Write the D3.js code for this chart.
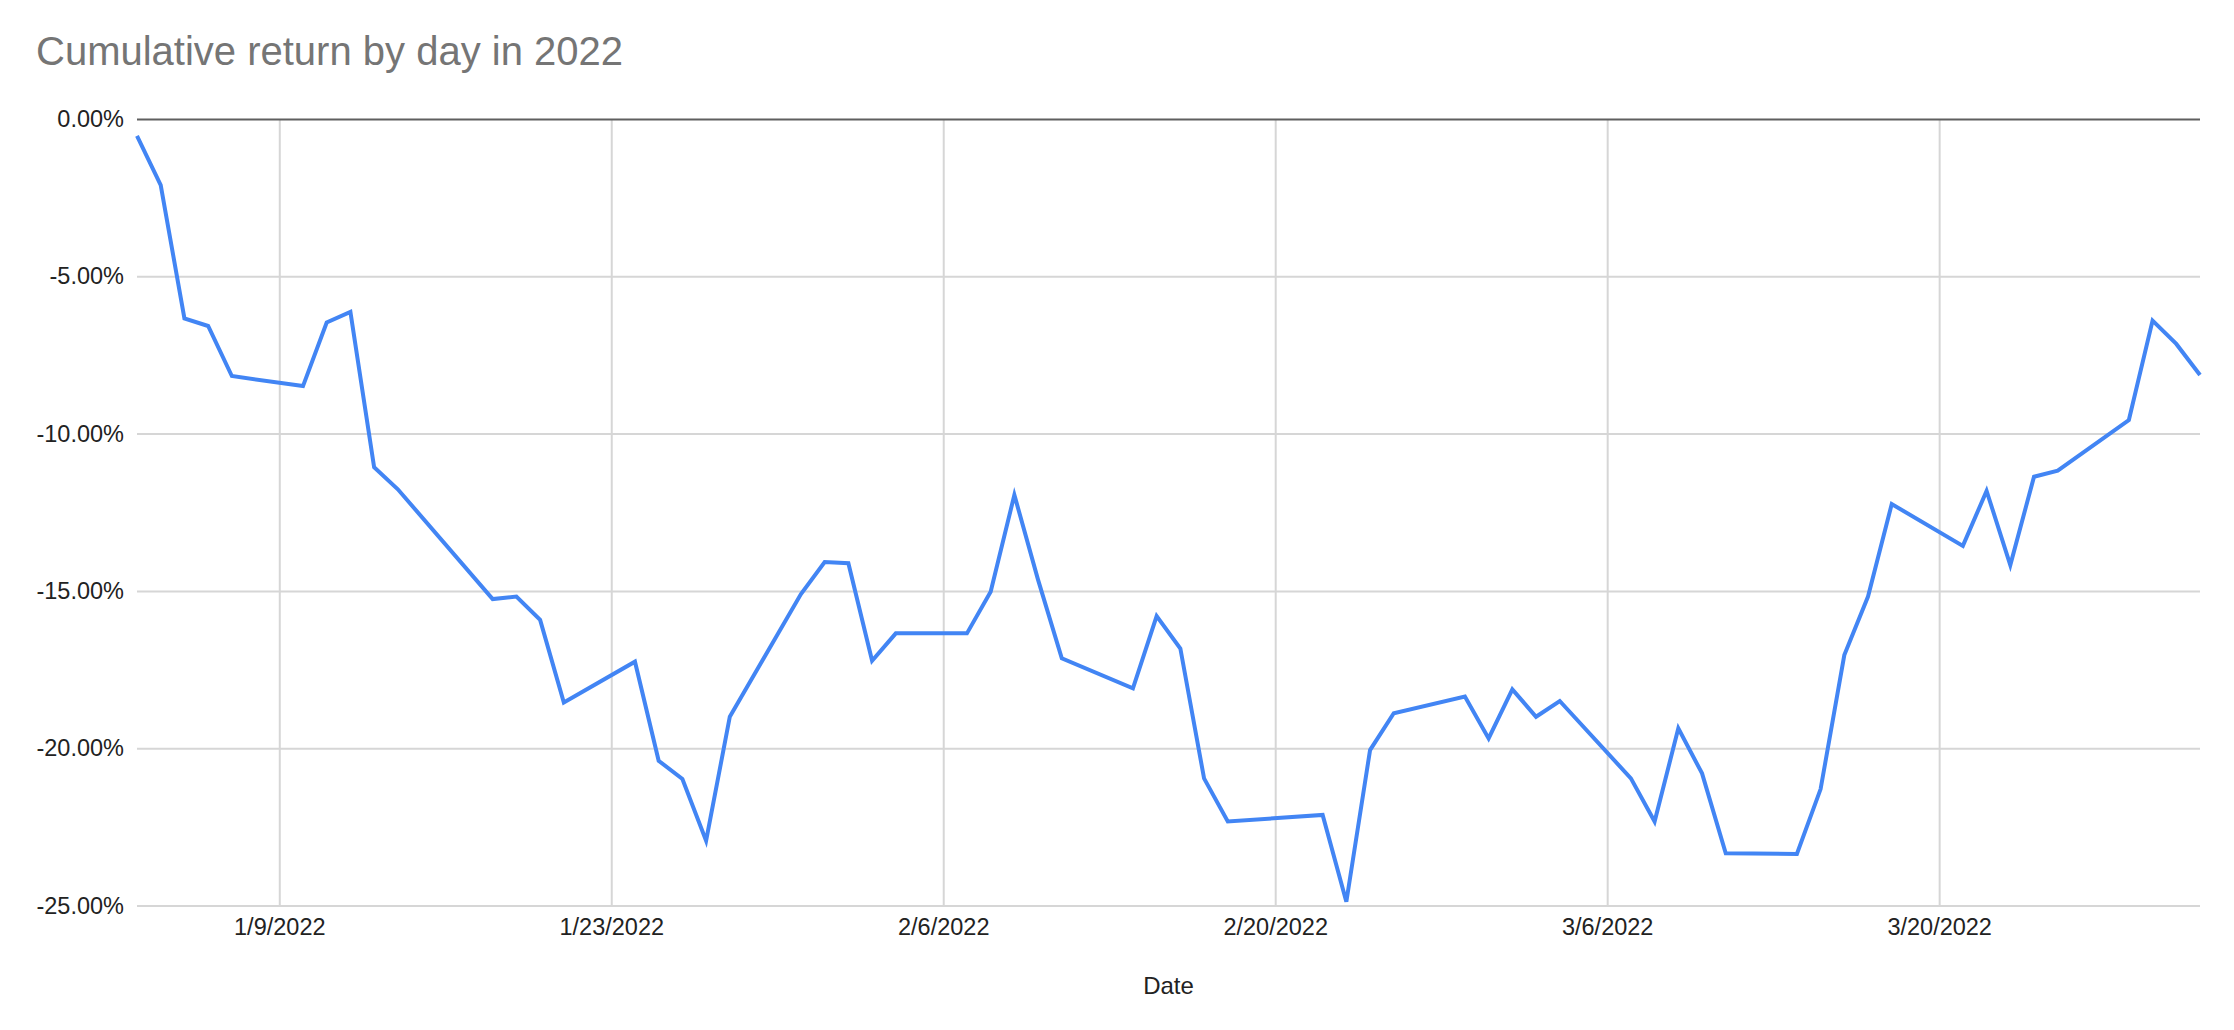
<!DOCTYPE html>
<html>
<head>
<meta charset="utf-8">
<script src="https://cdn.jsdelivr.net/npm/d3@7"></script>
<style>
  html, body { margin: 0; padding: 0; background: #fff; }
  svg { display: block; font-family: "Liberation Sans", Arial, Helvetica, sans-serif; }
</style>
</head>
<body>
<svg id="chart" width="2234" height="1030"></svg>
<script>
// ---- data ----
const dates = [
  "1/3/2022","1/4/2022","1/5/2022","1/6/2022","1/7/2022",
  "1/10/2022","1/11/2022","1/12/2022","1/13/2022","1/14/2022",
  "1/18/2022","1/19/2022","1/20/2022","1/21/2022",
  "1/24/2022","1/25/2022","1/26/2022","1/27/2022","1/28/2022",
  "1/31/2022","2/1/2022","2/2/2022","2/3/2022","2/4/2022",
  "2/7/2022","2/8/2022","2/9/2022","2/10/2022","2/11/2022",
  "2/14/2022","2/15/2022","2/16/2022","2/17/2022","2/18/2022",
  "2/22/2022","2/23/2022","2/24/2022","2/25/2022",
  "2/28/2022","3/1/2022","3/2/2022","3/3/2022","3/4/2022",
  "3/7/2022","3/8/2022","3/9/2022","3/10/2022","3/11/2022",
  "3/14/2022","3/15/2022","3/16/2022","3/17/2022","3/18/2022",
  "3/21/2022","3/22/2022","3/23/2022","3/24/2022","3/25/2022",
  "3/28/2022","3/29/2022","3/30/2022","3/31/2022"
];
const cumulativeReturn = [
  -0.54, -2.10, -6.34, -6.58, -8.17,
  -8.49, -6.47, -6.13, -11.07, -11.77,
  -15.26, -15.18, -15.92, -18.55,
  -17.25, -20.40, -20.98, -22.94, -19.00,
  -15.10, -14.08, -14.12, -17.22, -16.35,
  -16.35, -15.03, -11.95, -14.65, -17.14,
  -18.10, -15.80, -16.83, -20.96, -22.33,
  -22.12, -24.88, -20.06, -18.89,
  -18.36, -19.69, -18.13, -19.00, -18.50,
  -20.96, -22.33, -19.37, -20.80, -23.34,
  -23.36, -21.30, -17.04, -15.18, -12.24,
  -13.57, -11.82, -14.18, -11.37, -11.18,
  -9.57, -6.41, -7.15, -8.14
];
const xTickLabels = ["1/9/2022","1/23/2022","2/6/2022","2/20/2022","3/6/2022","3/20/2022"];
const yTickValues = [0, -5, -10, -15, -20, -25];
const xDomain = ["1/3/2022", "3/31/2022"];
const titleText = "Cumulative return by day in 2022";
const xAxisTitle = "Date";

// ---- layout ----
const parse = d3.utcParse("%m/%d/%Y");
const fmtDate = d3.utcFormat("%-m/%-d/%Y");
const fmtPct = d3.formatLocale({ decimal: ".", thousands: ",", grouping: [3], currency: ["", ""], minus: "-" }).format(".2f");
const plotLeft = 137, plotRight = 2200, plotTop = 119, plotBottom = 905.5;
const labelFont = "'Liberation Sans', Arial, Helvetica, sans-serif";

const x = d3.scaleUtc().domain(xDomain.map(parse)).range([plotLeft, plotRight]);
const y = d3.scaleLinear().domain([-25, 0]).range([plotBottom, plotTop]);

const data = dates.map((d, i) => ({ date: parse(d), value: cumulativeReturn[i] }));

const svg = d3.select("#chart");

// title
svg.append("text")
  .attr("x", 36).attr("y", 65)
  .attr("font-size", 40)
  .attr("fill", "#757575")
  .text(titleText);

// vertical grid (x axis)
const xAxis = d3.axisBottom(x)
  .tickValues(xTickLabels.map(parse))
  .tickFormat(fmtDate)
  .tickSize(-(plotBottom - plotTop))
  .tickPadding(13);
const gx = svg.append("g").attr("transform", `translate(0,${plotBottom})`).call(xAxis);
gx.select(".domain").remove();
gx.selectAll(".tick line").attr("stroke", "#d6d6d6").attr("stroke-width", 2);
gx.selectAll(".tick text").attr("font-size", 23.5).attr("fill", "#222")
  .attr("font-family", labelFont);

// horizontal grid (y axis)
const yAxis = d3.axisLeft(y)
  .tickValues(yTickValues)
  .tickFormat(d => fmtPct(d) + "%")
  .tickSize(-(plotRight - plotLeft))
  .tickPadding(13);
const gy = svg.append("g").attr("transform", `translate(${plotLeft},0)`).call(yAxis);
gy.select(".domain").remove();
gy.selectAll(".tick line")
  .attr("stroke", d => d === 0 ? "#5f5f5f" : "#d6d6d6")
  .attr("stroke-width", 2);
gy.selectAll(".tick text").attr("font-size", 23.5).attr("fill", "#222")
  .attr("font-family", labelFont);
gy.selectAll(".tick").filter(d => d === 0).raise();

// line
const line = d3.line().x(d => x(d.date)).y(d => y(d.value));
svg.append("path")
  .datum(data)
  .attr("fill", "none")
  .attr("stroke", "#4285f4")
  .attr("stroke-width", 4)
  .attr("stroke-linejoin", "miter")
  .attr("d", line);

// x axis title
svg.append("text")
  .attr("x", (plotLeft + plotRight) / 2).attr("y", 994)
  .attr("text-anchor", "middle")
  .attr("font-size", 24)
  .attr("fill", "#222")
  .text(xAxisTitle);
</script>
</body>
</html>
